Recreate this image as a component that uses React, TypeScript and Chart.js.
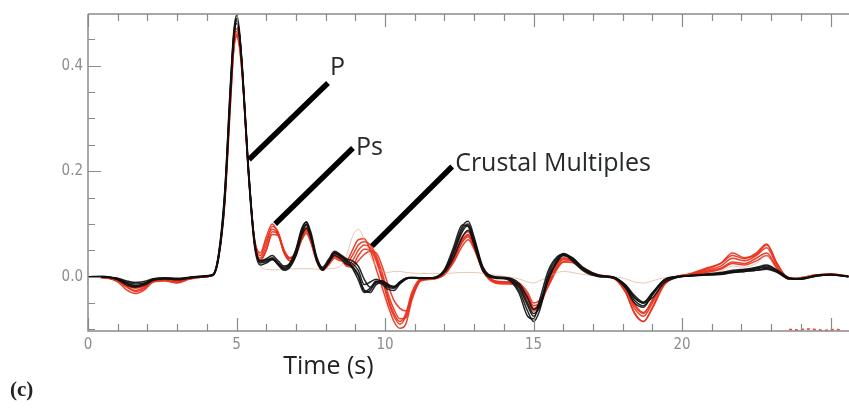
import React, { useEffect, useRef } from "react";
import { Chart, registerables } from "chart.js";

Chart.register(...registerables);

// ---------- DATA ----------
const TIME = [
  0, 0.5, 1, 1.3, 1.6, 1.9, 2.2, 2.6, 3, 3.4,
  3.8, 4.2, 4.4, 4.6, 4.8, 4.9, 5, 5.1, 5.2, 5.4,
  5.6, 5.8, 6, 6.2, 6.4, 6.6, 6.8, 7, 7.2, 7.35,
  7.5, 7.7, 7.9, 8.1, 8.3, 8.5, 8.7, 8.9, 9.1, 9.3,
  9.5, 9.7, 9.9, 10.1, 10.3, 10.5, 10.7, 10.9, 11.2, 11.6,
  12, 12.3, 12.6, 12.8, 13, 13.3, 13.7, 14.1, 14.5, 14.8,
  15, 15.2, 15.5, 15.8, 16, 16.3, 16.7, 17.2, 17.7, 18.1,
  18.4, 18.7, 19, 19.4, 19.8, 20.3, 20.8, 21.3, 21.7, 22.1,
  22.5, 22.85, 23.2, 23.6, 24, 24.5, 25, 25.6,
];

const BLACK_1 = [
  0, 0, -0.004, -0.01, -0.014, -0.012, -0.005, -0.003, -0.004, -0.002,
  0, 0.003, 0.04, 0.15, 0.36, 0.455, 0.49, 0.46, 0.39, 0.2,
  0.065, 0.028, 0.03, 0.036, 0.026, 0.016, 0.022, 0.045, 0.085, 0.1,
  0.08, 0.035, 0.016, 0.03, 0.045, 0.038, 0.03, 0.025, 0.012, -0.015,
  -0.01, -0.005, -0.01, -0.02, -0.022, -0.012, -0.004, -0.002, -0.003, -0.003,
  0.01, 0.045, 0.09, 0.1, 0.07, 0.015, -0.002, -0.003, -0.02, -0.055,
  -0.075, -0.055, 0.005, 0.035, 0.042, 0.032, 0.012, 0.001, -0.002, -0.02,
  -0.045, -0.055, -0.035, -0.008, -0.001, 0.002, 0.004, 0.006, 0.01, 0.012,
  0.015, 0.018, 0.01, -0.003, -0.004, 0.002, 0.004, 0,
];
const BLACK_2 = [
  0, 0.001, -0.006, -0.016, -0.02, -0.016, -0.007, -0.004, -0.006, -0.003,
  0, 0.004, 0.045, 0.16, 0.37, 0.46, 0.495, 0.465, 0.385, 0.195,
  0.06, 0.022, 0.026, 0.032, 0.024, 0.014, 0.02, 0.04, 0.078, 0.092,
  0.074, 0.032, 0.014, 0.026, 0.04, 0.034, 0.024, 0.018, 0.002, -0.025,
  -0.03, -0.015, -0.012, -0.018, -0.02, -0.01, -0.003, -0.002, -0.004, -0.002,
  0.012, 0.05, 0.095, 0.105, 0.075, 0.018, -0.001, -0.004, -0.025, -0.065,
  -0.085, -0.065, 0, 0.03, 0.04, 0.034, 0.014, 0.002, -0.001, -0.018,
  -0.04, -0.05, -0.032, -0.006, 0, 0.001, 0.003, 0.004, 0.008, 0.01,
  0.012, 0.014, 0.008, -0.004, -0.005, 0.001, 0.003, 0,
];
const BLACK_3 = [
  0, -0.001, -0.003, -0.008, -0.011, -0.009, -0.004, -0.002, -0.003, -0.001,
  0.001, 0.003, 0.038, 0.145, 0.35, 0.445, 0.485, 0.455, 0.385, 0.205,
  0.07, 0.03, 0.034, 0.04, 0.03, 0.02, 0.025, 0.05, 0.09, 0.104,
  0.085, 0.038, 0.018, 0.033, 0.048, 0.042, 0.034, 0.03, 0.02, -0.005,
  -0.02, -0.012, -0.008, -0.016, -0.018, -0.01, -0.003, -0.001, -0.002, -0.002,
  0.008, 0.035, 0.075, 0.088, 0.062, 0.014, -0.001, -0.002, -0.012, -0.04,
  -0.062, -0.05, -0.005, 0.028, 0.04, 0.036, 0.016, 0.003, -0.001, -0.016,
  -0.04, -0.05, -0.04, -0.012, -0.002, 0.002, 0.005, 0.008, 0.012, 0.014,
  0.016, 0.02, 0.012, -0.002, -0.005, 0.001, 0.003, 0.001,
];
const BLACK_4 = [
  0, 0, -0.005, -0.012, -0.017, -0.014, -0.006, -0.003, -0.005, -0.002,
  0, 0.002, 0.035, 0.14, 0.35, 0.445, 0.48, 0.455, 0.39, 0.205,
  0.068, 0.026, 0.028, 0.034, 0.022, 0.012, 0.018, 0.04, 0.082, 0.098,
  0.078, 0.034, 0.014, 0.028, 0.044, 0.04, 0.032, 0.02, 0.004, -0.028,
  -0.022, -0.008, -0.014, -0.024, -0.026, -0.014, -0.005, -0.002, -0.003, -0.003,
  0.014, 0.055, 0.098, 0.095, 0.06, 0.01, -0.003, -0.005, -0.03, -0.075,
  -0.08, -0.045, 0.012, 0.038, 0.043, 0.03, 0.01, 0, -0.003, -0.022,
  -0.05, -0.058, -0.034, -0.006, 0, 0.002, 0.003, 0.005, 0.008, 0.01,
  0.012, 0.016, 0.009, -0.004, -0.003, 0.002, 0.004, 0,
];
const BLACK_5 = [
  0, 0, -0.004, -0.013, -0.018, -0.013, -0.005, -0.004, -0.005, -0.002,
  0.001, 0.004, 0.042, 0.155, 0.365, 0.45, 0.488, 0.46, 0.395, 0.21,
  0.07, 0.03, 0.032, 0.034, 0.024, 0.018, 0.026, 0.052, 0.092, 0.103,
  0.078, 0.03, 0.012, 0.028, 0.046, 0.04, 0.028, 0.016, -0.006, -0.03,
  -0.026, -0.01, -0.008, -0.014, -0.02, -0.012, -0.004, -0.002, -0.003, -0.003,
  0.01, 0.042, 0.085, 0.097, 0.068, 0.016, 0, -0.002, -0.016, -0.05,
  -0.07, -0.058, -0.006, 0.032, 0.044, 0.036, 0.014, 0.002, -0.002, -0.016,
  -0.036, -0.048, -0.03, -0.006, -0.001, 0.002, 0.004, 0.007, 0.01, 0.013,
  0.018, 0.022, 0.012, -0.002, -0.004, 0.002, 0.004, 0,
];

const RED_1 = [
  0, -0.002, -0.008, -0.02, -0.028, -0.022, -0.008, -0.006, -0.01, -0.004,
  -0.001, 0.003, 0.04, 0.14, 0.34, 0.43, 0.46, 0.44, 0.38, 0.2,
  0.07, 0.035, 0.06, 0.095, 0.085, 0.05, 0.035, 0.045, 0.075, 0.088,
  0.07, 0.03, 0.014, 0.025, 0.04, 0.035, 0.022, 0.03, 0.05, 0.06,
  0.055, 0.035, 0, -0.04, -0.07, -0.085, -0.07, -0.03, -0.005, -0.004,
  0.005, 0.03, 0.065, 0.075, 0.055, 0.012, -0.01, -0.012, -0.015, -0.035,
  -0.055, -0.05, -0.015, 0.02, 0.032, 0.03, 0.015, 0.002, -0.002, -0.025,
  -0.06, -0.075, -0.05, -0.012, 0, 0.004, 0.012, 0.02, 0.035, 0.03,
  0.04, 0.055, 0.02, -0.004, -0.002, 0.003, 0.005, 0.001,
];
const RED_2 = [
  0, -0.001, -0.01, -0.025, -0.032, -0.025, -0.01, -0.008, -0.012, -0.005,
  -0.001, 0.002, 0.038, 0.135, 0.33, 0.425, 0.455, 0.435, 0.375, 0.2,
  0.075, 0.045, 0.075, 0.1, 0.082, 0.045, 0.03, 0.04, 0.07, 0.082,
  0.065, 0.028, 0.012, 0.022, 0.035, 0.03, 0.03, 0.05, 0.07, 0.072,
  0.05, 0.015, -0.02, -0.055, -0.085, -0.098, -0.09, -0.045, -0.008, -0.004,
  0.004, 0.026, 0.058, 0.07, 0.052, 0.01, -0.012, -0.014, -0.018, -0.04,
  -0.06, -0.052, -0.012, 0.018, 0.028, 0.027, 0.012, 0.001, -0.003, -0.03,
  -0.068, -0.085, -0.06, -0.016, -0.001, 0.006, 0.016, 0.025, 0.04, 0.034,
  0.045, 0.062, 0.025, -0.003, -0.003, 0.002, 0.004, 0.001,
];
const RED_3 = [
  0, -0.001, -0.006, -0.016, -0.022, -0.018, -0.007, -0.005, -0.008, -0.003,
  0, 0.004, 0.042, 0.145, 0.345, 0.435, 0.465, 0.445, 0.385, 0.205,
  0.068, 0.032, 0.05, 0.08, 0.078, 0.05, 0.036, 0.048, 0.08, 0.09,
  0.072, 0.032, 0.016, 0.028, 0.042, 0.036, 0.02, 0.018, 0.03, 0.042,
  0.048, 0.045, 0.02, -0.015, -0.045, -0.06, -0.065, -0.04, -0.008, -0.005,
  0.004, 0.03, 0.068, 0.078, 0.058, 0.014, -0.008, -0.01, -0.012, -0.03,
  -0.05, -0.045, -0.018, 0.015, 0.028, 0.03, 0.016, 0.003, -0.001, -0.02,
  -0.052, -0.068, -0.046, -0.01, 0.001, 0.003, 0.01, 0.016, 0.028, 0.025,
  0.035, 0.045, 0.016, -0.005, -0.002, 0.003, 0.004, 0.001,
];
const RED_4 = [
  0, -0.002, -0.007, -0.018, -0.026, -0.02, -0.009, -0.007, -0.011, -0.004,
  -0.001, 0.003, 0.04, 0.142, 0.338, 0.428, 0.458, 0.438, 0.378, 0.198,
  0.072, 0.04, 0.068, 0.09, 0.08, 0.046, 0.034, 0.044, 0.072, 0.085,
  0.068, 0.03, 0.015, 0.026, 0.038, 0.032, 0.025, 0.04, 0.06, 0.066,
  0.06, 0.04, 0.008, -0.032, -0.062, -0.08, -0.078, -0.04, -0.006, -0.003,
  0.006, 0.034, 0.07, 0.08, 0.058, 0.013, -0.009, -0.011, -0.014, -0.038,
  -0.062, -0.055, -0.016, 0.022, 0.034, 0.032, 0.014, 0.002, -0.003, -0.03,
  -0.07, -0.085, -0.058, -0.014, 0, 0.005, 0.014, 0.025, 0.045, 0.036,
  0.042, 0.06, 0.024, -0.003, -0.002, 0.003, 0.005, 0.001,
];
const RED_5 = [
  0, -0.001, -0.005, -0.014, -0.02, -0.016, -0.006, -0.004, -0.007, -0.003,
  0, 0.003, 0.04, 0.148, 0.35, 0.44, 0.47, 0.448, 0.385, 0.2,
  0.066, 0.03, 0.05, 0.085, 0.08, 0.048, 0.03, 0.046, 0.08, 0.094,
  0.075, 0.033, 0.015, 0.028, 0.043, 0.036, 0.024, 0.022, 0.04, 0.052,
  0.05, 0.03, -0.005, -0.045, -0.075, -0.09, -0.075, -0.035, -0.006, -0.004,
  0.006, 0.036, 0.075, 0.085, 0.06, 0.014, -0.008, -0.01, -0.016, -0.045,
  -0.065, -0.058, -0.01, 0.025, 0.036, 0.032, 0.014, 0.002, -0.002, -0.022,
  -0.055, -0.07, -0.044, -0.01, 0, 0.003, 0.008, 0.014, 0.025, 0.022,
  0.03, 0.04, 0.015, -0.004, -0.003, 0.002, 0.004, 0.001,
];
const OUTLIER = [
  0, 0, -0.003, -0.008, -0.01, -0.008, -0.003, -0.002, -0.003, -0.001,
  0, 0.003, 0.04, 0.15, 0.36, 0.45, 0.485, 0.455, 0.385, 0.2,
  0.06, 0.02, 0.014, 0.013, 0.013, 0.014, 0.015, 0.015, 0.015, 0.015,
  0.015, 0.014, 0.014, 0.015, 0.016, 0.02, 0.04, 0.075, 0.09, 0.07,
  0.04, 0.02, 0.01, 0.008, 0.01, 0.01, 0.008, 0.007, 0.006, 0.006,
  0.006, 0.007, 0.008, 0.008, 0.008, 0.006, 0.003, 0, -0.004, -0.01,
  -0.012, -0.008, 0, 0.008, 0.01, 0.008, 0.004, 0.001, 0, -0.004,
  -0.01, -0.012, -0.008, -0.002, 0, 0.002, 0.005, 0.01, 0.02, 0.018,
  0.025, 0.04, 0.012, -0.002, -0.001, 0.002, 0.003, 0,
];

const NOISE_T = [23.6, 23.9, 24.2, 24.5, 24.8, 25.1, 25.4];
const NOISE_V = [-0.1, -0.101, -0.099, -0.1, -0.102, -0.1, -0.101];

const BLACK_SERIES = [BLACK_1, BLACK_2, BLACK_3, BLACK_4, BLACK_5];
const RED_SERIES = [RED_1, RED_2, RED_3, RED_4, RED_5];

const X_TICKS = [0, 5, 10, 15, 20];
const Y_TICKS = [0, 0.2, 0.4];
const X_RANGE = [0, 25.62];
const Y_RANGE = [-0.103, 0.498];

const ANNOT_LABELS = ["P", "Ps", "Crustal Multiples"];
const ANNOT_FROM_X = [5.42, 6.3, 9.56];
const ANNOT_FROM_Y = [0.222, 0.1, 0.058];
const ANNOT_TO_X = [8.08, 8.92, 12.26];
const ANNOT_TO_Y = [0.367, 0.244, 0.209];
const ANNOT_TEXT_X = [8.15, 9.02, 12.36];
const ANNOT_TEXT_Y = [0.382, 0.231, 0.201];

const X_TITLE = "Time (s)";
const X_TITLE_AT = 6.57;
const PANEL_LABEL = "(c)";

// ---------- STYLE ----------
const AXIS_COLOR = "#8a8a8a";
const TICK_LABEL_COLOR = "#8c8c8c";
const BLACK = "rgba(15,15,15,0.9)";
const RED = "rgba(232,50,28,0.92)";
const TAN = "rgba(222,165,130,0.7)";
const TEXT_FONT = "'Open Sans', 'Noto Sans', sans-serif";
const TICK_FONT = "'Liberation Sans Narrow', 'DejaVu Sans Condensed', 'Liberation Sans', sans-serif";

const toPoints = (vals: number[]) => TIME.map((t, i) => ({ x: t, y: vals[i] }));

const framePlugin = {
  id: "frame",
  afterDatasetsDraw(chart: any) {
    const { ctx, chartArea, scales } = chart;
    const { left, top, bottom } = chartArea;
    const right = chart.width;
    const xs = scales.x;
    const ys = scales.y;
    ctx.save();
    ctx.strokeStyle = AXIS_COLOR;
    ctx.lineWidth = 1.5;
    ctx.beginPath();
    ctx.moveTo(left, top);
    ctx.lineTo(right, top);
    ctx.moveTo(left, top);
    ctx.lineTo(left, bottom);
    ctx.lineTo(right, bottom);
    ctx.stroke();
    ctx.lineWidth = 1.2;
    ctx.beginPath();
    for (let v = 0; v <= Math.floor(X_RANGE[1]); v += 1) {
      const px = Math.round(xs.getPixelForValue(v)) + 0.5;
      const len = v % 5 === 0 ? 13 : 7;
      ctx.moveTo(px, bottom);
      ctx.lineTo(px, bottom - len);
      ctx.moveTo(px, top);
      ctx.lineTo(px, top + len);
    }
    for (let k = -2; k <= 9; k += 1) {
      const v = k * 0.05;
      const py = Math.round(ys.getPixelForValue(v)) + 0.5;
      const len = k % 4 === 0 ? 13 : 7;
      ctx.moveTo(left, py);
      ctx.lineTo(left + len, py);
    }
    ctx.stroke();
    ctx.restore();
  },
};

const annotationPlugin = {
  id: "annotations",
  afterDraw(chart: any) {
    const { ctx, scales, chartArea } = chart;
    const xs = scales.x;
    const ys = scales.y;
    ctx.save();
    ctx.strokeStyle = "#000";
    ctx.lineWidth = 5.5;
    ctx.lineCap = "butt";
    ANNOT_LABELS.forEach((label, i) => {
      ctx.beginPath();
      ctx.moveTo(xs.getPixelForValue(ANNOT_FROM_X[i]), ys.getPixelForValue(ANNOT_FROM_Y[i]));
      ctx.lineTo(xs.getPixelForValue(ANNOT_TO_X[i]), ys.getPixelForValue(ANNOT_TO_Y[i]));
      ctx.stroke();
      ctx.fillStyle = "#262a2c";
      ctx.font = `25px ${TEXT_FONT}`;
      ctx.textAlign = "left";
      ctx.textBaseline = "alphabetic";
      ctx.fillText(label, xs.getPixelForValue(ANNOT_TEXT_X[i]), ys.getPixelForValue(ANNOT_TEXT_Y[i]));
    });
    ctx.fillStyle = "#222";
    ctx.font = `25px ${TEXT_FONT}`;
    ctx.fillText(X_TITLE, xs.getPixelForValue(X_TITLE_AT), chartArea.bottom + 43);
    ctx.font = "bold 21px 'Liberation Serif', 'DejaVu Serif', serif";
    ctx.fillStyle = "#222";
    ctx.fillText(PANEL_LABEL, 10, chartArea.bottom + 65);
    ctx.restore();
  },
};

export default function App() {
  const ref = useRef<HTMLCanvasElement>(null);
  useEffect(() => {
    if (!ref.current) return;
    const datasets: any[] = [];
    BLACK_SERIES.forEach((s, i) =>
      datasets.push({
        label: `black ${i + 1}`,
        data: toPoints(s),
        borderColor: BLACK,
        borderWidth: 1.5,
        pointRadius: 0,
        cubicInterpolationMode: "monotone",
        fill: false,
      })
    );
    datasets.push({
      label: "outlier",
      data: toPoints(OUTLIER),
      borderColor: TAN,
      borderWidth: 0.9,
      pointRadius: 0,
      cubicInterpolationMode: "monotone",
      fill: false,
    });
    RED_SERIES.forEach((s, i) =>
      datasets.push({
        label: `red ${i + 1}`,
        data: toPoints(s),
        borderColor: RED,
        borderWidth: 1.5,
        pointRadius: 0,
        cubicInterpolationMode: "monotone",
        fill: false,
      })
    );
    datasets.push({
      label: "noise",
      data: NOISE_T.map((t, i) => ({ x: t, y: NOISE_V[i] })),
      borderColor: RED,
      borderWidth: 1.5,
      borderDash: [3, 3],
      pointRadius: 0,
      fill: false,
    });

    const chart = new Chart(ref.current, {
      type: "line",
      data: { datasets },
      options: {
        animation: false,
        responsive: false,
        devicePixelRatio: 1,
        layout: { padding: { top: 11, right: 0, left: 0, bottom: 0 } },
        plugins: { legend: { display: false }, tooltip: { enabled: false } },
        scales: {
          x: {
            type: "linear",
            min: X_RANGE[0],
            max: X_RANGE[1],
            afterFit: (s: any) => {
              s.height = 79;
            },
            afterBuildTicks: (s: any) => {
              s.ticks = X_TICKS.map((v) => ({ value: v }));
            },
            grid: { display: false, drawTicks: false },
            border: { display: false },
            ticks: {
              padding: 5,
              color: TICK_LABEL_COLOR,
              font: { family: TICK_FONT, size: 15 },
              maxRotation: 0,
              autoSkip: false,
              callback: (v: any) => String(v),
            },
          },
          y: {
            type: "linear",
            min: Y_RANGE[0],
            max: Y_RANGE[1],
            afterFit: (s: any) => {
              s.width = 88;
            },
            afterBuildTicks: (s: any) => {
              s.ticks = Y_TICKS.map((v) => ({ value: v }));
            },
            grid: { display: false, drawTicks: false },
            border: { display: false },
            ticks: {
              padding: 5,
              color: TICK_LABEL_COLOR,
              font: { family: TICK_FONT, size: 15 },
              autoSkip: false,
              callback: (v: any) => Number(v).toFixed(1),
            },
          },
        },
      } as any,
      plugins: [framePlugin, annotationPlugin],
    });
    return () => chart.destroy();
  }, []);

  return (
    <div style={{ position: "absolute", left: 0, top: 0, width: 849, height: 410, background: "#fff" }}>
      <canvas ref={ref} width={849} height={410} style={{ display: "block", width: 849, height: 410 }} />
    </div>
  );
}
